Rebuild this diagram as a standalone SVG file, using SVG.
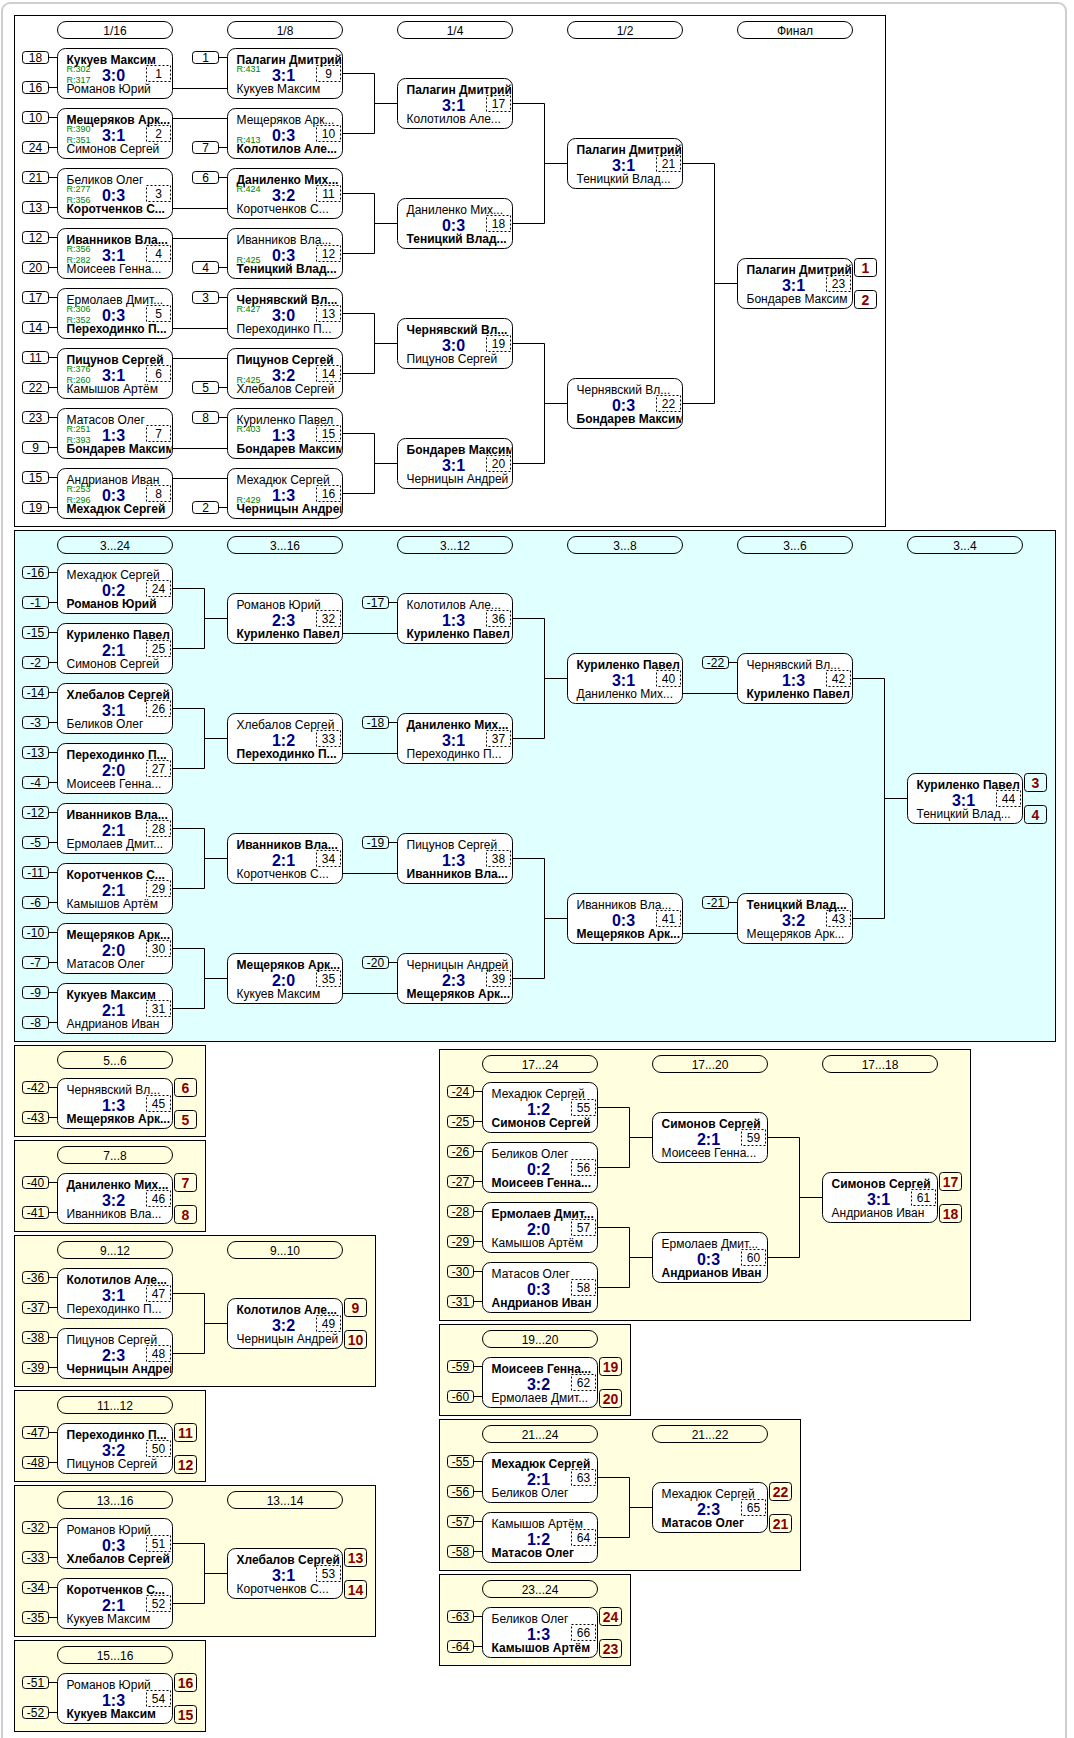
<svg xmlns="http://www.w3.org/2000/svg" width="1074" height="1738" viewBox="0 0 1074 1738">
<defs><clipPath id="cl" clipPathUnits="userSpaceOnUse"><rect x="0" y="0" width="114" height="50"/></clipPath></defs>
<style>
text{font-family:"Liberation Sans",Arial,sans-serif}
.pn{stroke:#000;stroke-width:1}
.p1{fill:#fff}.p2{fill:#e0ffff}.p3{fill:#ffffe0}
.hd{fill:none;stroke:#000}
.nd{fill:#fff;stroke:#000}
.sb{fill:none;stroke:#000}
.mb{fill:none;stroke:#000;stroke-dasharray:2 2}
.bg{fill:none;stroke:#000}
.t{font-size:12px;fill:#000;clip-path:url(#cl)}
.b{font-weight:bold;font-size:12px}
.sc{font-size:16px;font-weight:bold;fill:#000080;text-anchor:middle}
.r{font-size:9px;fill:#008000}
.c{font-size:12px;fill:#000;text-anchor:middle}
.bt{font-size:14px;font-weight:bold;fill:#8b0000;text-anchor:middle}
#conn path{stroke:#000;fill:none;stroke-width:1}
</style>
<rect x="0" y="0" width="1074" height="1738" fill="#fff"/>
<rect x="2" y="3" width="1064" height="1760" rx="8" fill="#fff" stroke="#cfcfcf" stroke-width="2"/>
<g id="panels">
<rect class="pn p1" x="14.5" y="15.5" width="871" height="511"/>
<rect class="pn p2" x="14.5" y="530.5" width="1041" height="511"/>
<rect class="pn p3" x="14.5" y="1045.5" width="191" height="91"/>
<rect class="pn p3" x="14.5" y="1140.5" width="191" height="91"/>
<rect class="pn p3" x="14.5" y="1235.5" width="361" height="151"/>
<rect class="pn p3" x="14.5" y="1390.5" width="191" height="91"/>
<rect class="pn p3" x="14.5" y="1485.5" width="361" height="151"/>
<rect class="pn p3" x="14.5" y="1640.5" width="191" height="91"/>
<rect class="pn p3" x="439.5" y="1049.5" width="531" height="271"/>
<rect class="pn p3" x="439.5" y="1324.5" width="191" height="91"/>
<rect class="pn p3" x="439.5" y="1419.5" width="361" height="151"/>
<rect class="pn p3" x="439.5" y="1574.5" width="191" height="91"/>
</g>
<g id="headers">
<g transform="translate(57.5,21.5)"><rect class="hd" width="115" height="17" rx="8.5"/><text class="c" x="57.5" y="13">1/16</text></g>
<g transform="translate(227.5,21.5)"><rect class="hd" width="115" height="17" rx="8.5"/><text class="c" x="57.5" y="13">1/8</text></g>
<g transform="translate(397.5,21.5)"><rect class="hd" width="115" height="17" rx="8.5"/><text class="c" x="57.5" y="13">1/4</text></g>
<g transform="translate(567.5,21.5)"><rect class="hd" width="115" height="17" rx="8.5"/><text class="c" x="57.5" y="13">1/2</text></g>
<g transform="translate(737.5,21.5)"><rect class="hd" width="115" height="17" rx="8.5"/><text class="c" x="57.5" y="13">Финал</text></g>
<g transform="translate(57.5,536.5)"><rect class="hd" width="115" height="17" rx="8.5"/><text class="c" x="57.5" y="13">3...24</text></g>
<g transform="translate(227.5,536.5)"><rect class="hd" width="115" height="17" rx="8.5"/><text class="c" x="57.5" y="13">3...16</text></g>
<g transform="translate(397.5,536.5)"><rect class="hd" width="115" height="17" rx="8.5"/><text class="c" x="57.5" y="13">3...12</text></g>
<g transform="translate(567.5,536.5)"><rect class="hd" width="115" height="17" rx="8.5"/><text class="c" x="57.5" y="13">3...8</text></g>
<g transform="translate(737.5,536.5)"><rect class="hd" width="115" height="17" rx="8.5"/><text class="c" x="57.5" y="13">3...6</text></g>
<g transform="translate(907.5,536.5)"><rect class="hd" width="115" height="17" rx="8.5"/><text class="c" x="57.5" y="13">3...4</text></g>
<g transform="translate(57.5,1051.5)"><rect class="hd" width="115" height="17" rx="8.5"/><text class="c" x="57.5" y="13">5...6</text></g>
<g transform="translate(57.5,1146.5)"><rect class="hd" width="115" height="17" rx="8.5"/><text class="c" x="57.5" y="13">7...8</text></g>
<g transform="translate(57.5,1241.5)"><rect class="hd" width="115" height="17" rx="8.5"/><text class="c" x="57.5" y="13">9...12</text></g>
<g transform="translate(227.5,1241.5)"><rect class="hd" width="115" height="17" rx="8.5"/><text class="c" x="57.5" y="13">9...10</text></g>
<g transform="translate(57.5,1396.5)"><rect class="hd" width="115" height="17" rx="8.5"/><text class="c" x="57.5" y="13">11...12</text></g>
<g transform="translate(57.5,1491.5)"><rect class="hd" width="115" height="17" rx="8.5"/><text class="c" x="57.5" y="13">13...16</text></g>
<g transform="translate(227.5,1491.5)"><rect class="hd" width="115" height="17" rx="8.5"/><text class="c" x="57.5" y="13">13...14</text></g>
<g transform="translate(57.5,1646.5)"><rect class="hd" width="115" height="17" rx="8.5"/><text class="c" x="57.5" y="13">15...16</text></g>
<g transform="translate(482.5,1055.5)"><rect class="hd" width="115" height="17" rx="8.5"/><text class="c" x="57.5" y="13">17...24</text></g>
<g transform="translate(652.5,1055.5)"><rect class="hd" width="115" height="17" rx="8.5"/><text class="c" x="57.5" y="13">17...20</text></g>
<g transform="translate(822.5,1055.5)"><rect class="hd" width="115" height="17" rx="8.5"/><text class="c" x="57.5" y="13">17...18</text></g>
<g transform="translate(482.5,1330.5)"><rect class="hd" width="115" height="17" rx="8.5"/><text class="c" x="57.5" y="13">19...20</text></g>
<g transform="translate(482.5,1425.5)"><rect class="hd" width="115" height="17" rx="8.5"/><text class="c" x="57.5" y="13">21...24</text></g>
<g transform="translate(652.5,1425.5)"><rect class="hd" width="115" height="17" rx="8.5"/><text class="c" x="57.5" y="13">21...22</text></g>
<g transform="translate(482.5,1580.5)"><rect class="hd" width="115" height="17" rx="8.5"/><text class="c" x="57.5" y="13">23...24</text></g>
</g>
<g id="conn">
<path d="M48.5 57.5H57.5M48.5 87.5H57.5M48.5 117.5H57.5M48.5 147.5H57.5M48.5 177.5H57.5M48.5 207.5H57.5M48.5 237.5H57.5M48.5 267.5H57.5M48.5 297.5H57.5M48.5 327.5H57.5M48.5 357.5H57.5M48.5 387.5H57.5M48.5 417.5H57.5M48.5 447.5H57.5M48.5 477.5H57.5M48.5 507.5H57.5"/>
<path d="M218.5 57.5H227.5M218.5 147.5H227.5M218.5 177.5H227.5M218.5 267.5H227.5M218.5 297.5H227.5M218.5 387.5H227.5M218.5 417.5H227.5M218.5 507.5H227.5"/>
<path d="M172.5 88.5H227.5M172.5 118.5H227.5M172.5 208.5H227.5M172.5 238.5H227.5M172.5 328.5H227.5M172.5 358.5H227.5M172.5 448.5H227.5M172.5 478.5H227.5"/>
<path d="M342.5 73.5H374.5V133.5H342.5M374.5 103.5H397.5M342.5 193.5H374.5V253.5H342.5M374.5 223.5H397.5M342.5 313.5H374.5V373.5H342.5M374.5 343.5H397.5M342.5 433.5H374.5V493.5H342.5M374.5 463.5H397.5"/>
<path d="M512.5 103.5H544.5V223.5H512.5M544.5 163.5H567.5M512.5 343.5H544.5V463.5H512.5M544.5 403.5H567.5"/>
<path d="M682.5 163.5H714.5V403.5H682.5M714.5 283.5H737.5"/>
<path d="M48.5 572.5H57.5M48.5 602.5H57.5M48.5 632.5H57.5M48.5 662.5H57.5M48.5 692.5H57.5M48.5 722.5H57.5M48.5 752.5H57.5M48.5 782.5H57.5M48.5 812.5H57.5M48.5 842.5H57.5M48.5 872.5H57.5M48.5 902.5H57.5M48.5 932.5H57.5M48.5 962.5H57.5M48.5 992.5H57.5M48.5 1022.5H57.5"/>
<path d="M172.5 588.5H204.5V648.5H172.5M204.5 618.5H227.5M172.5 708.5H204.5V768.5H172.5M204.5 738.5H227.5M172.5 828.5H204.5V888.5H172.5M204.5 858.5H227.5M172.5 948.5H204.5V1008.5H172.5M204.5 978.5H227.5"/>
<path d="M342.5 633.5H397.5M342.5 753.5H397.5M342.5 873.5H397.5M342.5 993.5H397.5M388.5 602.5H397.5M388.5 722.5H397.5M388.5 842.5H397.5M388.5 962.5H397.5"/>
<path d="M512.5 618.5H544.5V738.5H512.5M544.5 678.5H567.5M512.5 858.5H544.5V978.5H512.5M544.5 918.5H567.5"/>
<path d="M682.5 693.5H737.5M682.5 933.5H737.5M728.5 662.5H737.5M728.5 902.5H737.5"/>
<path d="M852.5 678.5H884.5V918.5H852.5M884.5 798.5H907.5"/>
<path d="M48.5 1087.5H57.5M48.5 1117.5H57.5M48.5 1182.5H57.5M48.5 1212.5H57.5M48.5 1277.5H57.5M48.5 1307.5H57.5M48.5 1337.5H57.5M48.5 1367.5H57.5M48.5 1432.5H57.5M48.5 1462.5H57.5M48.5 1527.5H57.5M48.5 1557.5H57.5M48.5 1587.5H57.5M48.5 1617.5H57.5M48.5 1682.5H57.5M48.5 1712.5H57.5"/>
<path d="M172.5 1293.5H204.5V1353.5H172.5M204.5 1323.5H227.5M172.5 1543.5H204.5V1603.5H172.5M204.5 1573.5H227.5"/>
<path d="M473.5 1091.5H482.5M473.5 1121.5H482.5M473.5 1151.5H482.5M473.5 1181.5H482.5M473.5 1211.5H482.5M473.5 1241.5H482.5M473.5 1271.5H482.5M473.5 1301.5H482.5M473.5 1366.5H482.5M473.5 1396.5H482.5M473.5 1461.5H482.5M473.5 1491.5H482.5M473.5 1521.5H482.5M473.5 1551.5H482.5M473.5 1616.5H482.5M473.5 1646.5H482.5"/>
<path d="M597.5 1107.5H629.5V1167.5H597.5M629.5 1137.5H652.5M597.5 1227.5H629.5V1287.5H597.5M629.5 1257.5H652.5M767.5 1137.5H799.5V1257.5H767.5M799.5 1197.5H822.5"/>
<path d="M597.5 1477.5H629.5V1537.5H597.5M629.5 1507.5H652.5"/>
</g>
<g id="m1" transform="translate(57.5,48.5)"><rect class="sb" x="-35" y="3" width="26" height="12" rx="3"/><text class="c" x="-22" y="13">18</text><rect class="sb" x="-35" y="33" width="26" height="12" rx="3"/><text class="c" x="-22" y="43">16</text><rect class="nd" width="115" height="50" rx="8"/><text class="t b" x="9" y="15">Кукуев Максим</text><text class="r" x="9" y="23.5">R:302</text><text class="r" x="9" y="34">R:317</text><text class="t" x="9" y="44.5">Романов Юрий</text><text class="sc" x="56" y="32">3:0</text><rect class="mb" x="89" y="17" width="24" height="16"/><text class="c" x="101" y="29.5">1</text></g>
<g id="m2" transform="translate(57.5,108.5)"><rect class="sb" x="-35" y="3" width="26" height="12" rx="3"/><text class="c" x="-22" y="13">10</text><rect class="sb" x="-35" y="33" width="26" height="12" rx="3"/><text class="c" x="-22" y="43">24</text><rect class="nd" width="115" height="50" rx="8"/><text class="t b" x="9" y="15">Мещеряков Арк...</text><text class="r" x="9" y="23.5">R:390</text><text class="r" x="9" y="34">R:351</text><text class="t" x="9" y="44.5">Симонов Сергей</text><text class="sc" x="56" y="32">3:1</text><rect class="mb" x="89" y="17" width="24" height="16"/><text class="c" x="101" y="29.5">2</text></g>
<g id="m3" transform="translate(57.5,168.5)"><rect class="sb" x="-35" y="3" width="26" height="12" rx="3"/><text class="c" x="-22" y="13">21</text><rect class="sb" x="-35" y="33" width="26" height="12" rx="3"/><text class="c" x="-22" y="43">13</text><rect class="nd" width="115" height="50" rx="8"/><text class="t" x="9" y="15">Беликов Олег</text><text class="r" x="9" y="23.5">R:277</text><text class="r" x="9" y="34">R:356</text><text class="t b" x="9" y="44.5">Коротченков С...</text><text class="sc" x="56" y="32">0:3</text><rect class="mb" x="89" y="17" width="24" height="16"/><text class="c" x="101" y="29.5">3</text></g>
<g id="m4" transform="translate(57.5,228.5)"><rect class="sb" x="-35" y="3" width="26" height="12" rx="3"/><text class="c" x="-22" y="13">12</text><rect class="sb" x="-35" y="33" width="26" height="12" rx="3"/><text class="c" x="-22" y="43">20</text><rect class="nd" width="115" height="50" rx="8"/><text class="t b" x="9" y="15">Иванников Вла...</text><text class="r" x="9" y="23.5">R:356</text><text class="r" x="9" y="34">R:282</text><text class="t" x="9" y="44.5">Моисеев Генна...</text><text class="sc" x="56" y="32">3:1</text><rect class="mb" x="89" y="17" width="24" height="16"/><text class="c" x="101" y="29.5">4</text></g>
<g id="m5" transform="translate(57.5,288.5)"><rect class="sb" x="-35" y="3" width="26" height="12" rx="3"/><text class="c" x="-22" y="13">17</text><rect class="sb" x="-35" y="33" width="26" height="12" rx="3"/><text class="c" x="-22" y="43">14</text><rect class="nd" width="115" height="50" rx="8"/><text class="t" x="9" y="15">Ермолаев Дмит...</text><text class="r" x="9" y="23.5">R:306</text><text class="r" x="9" y="34">R:352</text><text class="t b" x="9" y="44.5">Переходинко П...</text><text class="sc" x="56" y="32">0:3</text><rect class="mb" x="89" y="17" width="24" height="16"/><text class="c" x="101" y="29.5">5</text></g>
<g id="m6" transform="translate(57.5,348.5)"><rect class="sb" x="-35" y="3" width="26" height="12" rx="3"/><text class="c" x="-22" y="13">11</text><rect class="sb" x="-35" y="33" width="26" height="12" rx="3"/><text class="c" x="-22" y="43">22</text><rect class="nd" width="115" height="50" rx="8"/><text class="t b" x="9" y="15">Пицунов Сергей</text><text class="r" x="9" y="23.5">R:376</text><text class="r" x="9" y="34">R:260</text><text class="t" x="9" y="44.5">Камышов Артём</text><text class="sc" x="56" y="32">3:1</text><rect class="mb" x="89" y="17" width="24" height="16"/><text class="c" x="101" y="29.5">6</text></g>
<g id="m7" transform="translate(57.5,408.5)"><rect class="sb" x="-35" y="3" width="26" height="12" rx="3"/><text class="c" x="-22" y="13">23</text><rect class="sb" x="-35" y="33" width="26" height="12" rx="3"/><text class="c" x="-22" y="43">9</text><rect class="nd" width="115" height="50" rx="8"/><text class="t" x="9" y="15">Матасов Олег</text><text class="r" x="9" y="23.5">R:251</text><text class="r" x="9" y="34">R:393</text><text class="t b" x="9" y="44.5">Бондарев Максим</text><text class="sc" x="56" y="32">1:3</text><rect class="mb" x="89" y="17" width="24" height="16"/><text class="c" x="101" y="29.5">7</text></g>
<g id="m8" transform="translate(57.5,468.5)"><rect class="sb" x="-35" y="3" width="26" height="12" rx="3"/><text class="c" x="-22" y="13">15</text><rect class="sb" x="-35" y="33" width="26" height="12" rx="3"/><text class="c" x="-22" y="43">19</text><rect class="nd" width="115" height="50" rx="8"/><text class="t" x="9" y="15">Андрианов Иван</text><text class="r" x="9" y="23.5">R:253</text><text class="r" x="9" y="34">R:296</text><text class="t b" x="9" y="44.5">Мехадюк Сергей</text><text class="sc" x="56" y="32">0:3</text><rect class="mb" x="89" y="17" width="24" height="16"/><text class="c" x="101" y="29.5">8</text></g>
<g id="m9" transform="translate(227.5,48.5)"><rect class="sb" x="-35" y="3" width="26" height="12" rx="3"/><text class="c" x="-22" y="13">1</text><rect class="nd" width="115" height="50" rx="8"/><text class="t b" x="9" y="15">Палагин Дмитрий</text><text class="r" x="9" y="23.5">R:431</text><text class="t" x="9" y="44.5">Кукуев Максим</text><text class="sc" x="56" y="32">3:1</text><rect class="mb" x="89" y="17" width="24" height="16"/><text class="c" x="101" y="29.5">9</text></g>
<g id="m10" transform="translate(227.5,108.5)"><rect class="sb" x="-35" y="33" width="26" height="12" rx="3"/><text class="c" x="-22" y="43">7</text><rect class="nd" width="115" height="50" rx="8"/><text class="t" x="9" y="15">Мещеряков Арк...</text><text class="r" x="9" y="34">R:413</text><text class="t b" x="9" y="44.5">Колотилов Але...</text><text class="sc" x="56" y="32">0:3</text><rect class="mb" x="89" y="17" width="24" height="16"/><text class="c" x="101" y="29.5">10</text></g>
<g id="m11" transform="translate(227.5,168.5)"><rect class="sb" x="-35" y="3" width="26" height="12" rx="3"/><text class="c" x="-22" y="13">6</text><rect class="nd" width="115" height="50" rx="8"/><text class="t b" x="9" y="15">Даниленко Мих...</text><text class="r" x="9" y="23.5">R:424</text><text class="t" x="9" y="44.5">Коротченков С...</text><text class="sc" x="56" y="32">3:2</text><rect class="mb" x="89" y="17" width="24" height="16"/><text class="c" x="101" y="29.5">11</text></g>
<g id="m12" transform="translate(227.5,228.5)"><rect class="sb" x="-35" y="33" width="26" height="12" rx="3"/><text class="c" x="-22" y="43">4</text><rect class="nd" width="115" height="50" rx="8"/><text class="t" x="9" y="15">Иванников Вла...</text><text class="r" x="9" y="34">R:425</text><text class="t b" x="9" y="44.5">Теницкий Влад...</text><text class="sc" x="56" y="32">0:3</text><rect class="mb" x="89" y="17" width="24" height="16"/><text class="c" x="101" y="29.5">12</text></g>
<g id="m13" transform="translate(227.5,288.5)"><rect class="sb" x="-35" y="3" width="26" height="12" rx="3"/><text class="c" x="-22" y="13">3</text><rect class="nd" width="115" height="50" rx="8"/><text class="t b" x="9" y="15">Чернявский Вл...</text><text class="r" x="9" y="23.5">R:427</text><text class="t" x="9" y="44.5">Переходинко П...</text><text class="sc" x="56" y="32">3:0</text><rect class="mb" x="89" y="17" width="24" height="16"/><text class="c" x="101" y="29.5">13</text></g>
<g id="m14" transform="translate(227.5,348.5)"><rect class="sb" x="-35" y="33" width="26" height="12" rx="3"/><text class="c" x="-22" y="43">5</text><rect class="nd" width="115" height="50" rx="8"/><text class="t b" x="9" y="15">Пицунов Сергей</text><text class="r" x="9" y="34">R:425</text><text class="t" x="9" y="44.5">Хлебалов Сергей</text><text class="sc" x="56" y="32">3:2</text><rect class="mb" x="89" y="17" width="24" height="16"/><text class="c" x="101" y="29.5">14</text></g>
<g id="m15" transform="translate(227.5,408.5)"><rect class="sb" x="-35" y="3" width="26" height="12" rx="3"/><text class="c" x="-22" y="13">8</text><rect class="nd" width="115" height="50" rx="8"/><text class="t" x="9" y="15">Куриленко Павел</text><text class="r" x="9" y="23.5">R:403</text><text class="t b" x="9" y="44.5">Бондарев Максим</text><text class="sc" x="56" y="32">1:3</text><rect class="mb" x="89" y="17" width="24" height="16"/><text class="c" x="101" y="29.5">15</text></g>
<g id="m16" transform="translate(227.5,468.5)"><rect class="sb" x="-35" y="33" width="26" height="12" rx="3"/><text class="c" x="-22" y="43">2</text><rect class="nd" width="115" height="50" rx="8"/><text class="t" x="9" y="15">Мехадюк Сергей</text><text class="r" x="9" y="34">R:429</text><text class="t b" x="9" y="44.5">Черницын Андрей</text><text class="sc" x="56" y="32">1:3</text><rect class="mb" x="89" y="17" width="24" height="16"/><text class="c" x="101" y="29.5">16</text></g>
<g id="m17" transform="translate(397.5,78.5)"><rect class="nd" width="115" height="50" rx="8"/><text class="t b" x="9" y="15">Палагин Дмитрий</text><text class="t" x="9" y="44.5">Колотилов Але...</text><text class="sc" x="56" y="32">3:1</text><rect class="mb" x="89" y="17" width="24" height="16"/><text class="c" x="101" y="29.5">17</text></g>
<g id="m18" transform="translate(397.5,198.5)"><rect class="nd" width="115" height="50" rx="8"/><text class="t" x="9" y="15">Даниленко Мих...</text><text class="t b" x="9" y="44.5">Теницкий Влад...</text><text class="sc" x="56" y="32">0:3</text><rect class="mb" x="89" y="17" width="24" height="16"/><text class="c" x="101" y="29.5">18</text></g>
<g id="m19" transform="translate(397.5,318.5)"><rect class="nd" width="115" height="50" rx="8"/><text class="t b" x="9" y="15">Чернявский Вл...</text><text class="t" x="9" y="44.5">Пицунов Сергей</text><text class="sc" x="56" y="32">3:0</text><rect class="mb" x="89" y="17" width="24" height="16"/><text class="c" x="101" y="29.5">19</text></g>
<g id="m20" transform="translate(397.5,438.5)"><rect class="nd" width="115" height="50" rx="8"/><text class="t b" x="9" y="15">Бондарев Максим</text><text class="t" x="9" y="44.5">Черницын Андрей</text><text class="sc" x="56" y="32">3:1</text><rect class="mb" x="89" y="17" width="24" height="16"/><text class="c" x="101" y="29.5">20</text></g>
<g id="m21" transform="translate(567.5,138.5)"><rect class="nd" width="115" height="50" rx="8"/><text class="t b" x="9" y="15">Палагин Дмитрий</text><text class="t" x="9" y="44.5">Теницкий Влад...</text><text class="sc" x="56" y="32">3:1</text><rect class="mb" x="89" y="17" width="24" height="16"/><text class="c" x="101" y="29.5">21</text></g>
<g id="m22" transform="translate(567.5,378.5)"><rect class="nd" width="115" height="50" rx="8"/><text class="t" x="9" y="15">Чернявский Вл...</text><text class="t b" x="9" y="44.5">Бондарев Максим</text><text class="sc" x="56" y="32">0:3</text><rect class="mb" x="89" y="17" width="24" height="16"/><text class="c" x="101" y="29.5">22</text></g>
<g id="m23" transform="translate(737.5,258.5)"><rect class="nd" width="115" height="50" rx="8"/><text class="t b" x="9" y="15">Палагин Дмитрий</text><text class="t" x="9" y="44.5">Бондарев Максим</text><text class="sc" x="56" y="32">3:1</text><rect class="mb" x="89" y="17" width="24" height="16"/><text class="c" x="101" y="29.5">23</text><rect class="bg" x="117" y="0" width="22" height="18" rx="3"/><text class="bt" x="128" y="14.5">1</text><rect class="bg" x="117" y="32" width="22" height="18" rx="3"/><text class="bt" x="128" y="46.5">2</text></g>
<g id="m24" transform="translate(57.5,563.5)"><rect class="sb" x="-35" y="3" width="26" height="12" rx="3"/><text class="c" x="-22" y="13">-16</text><rect class="sb" x="-35" y="33" width="26" height="12" rx="3"/><text class="c" x="-22" y="43">-1</text><rect class="nd" width="115" height="50" rx="8"/><text class="t" x="9" y="15">Мехадюк Сергей</text><text class="t b" x="9" y="44.5">Романов Юрий</text><text class="sc" x="56" y="32">0:2</text><rect class="mb" x="89" y="17" width="24" height="16"/><text class="c" x="101" y="29.5">24</text></g>
<g id="m25" transform="translate(57.5,623.5)"><rect class="sb" x="-35" y="3" width="26" height="12" rx="3"/><text class="c" x="-22" y="13">-15</text><rect class="sb" x="-35" y="33" width="26" height="12" rx="3"/><text class="c" x="-22" y="43">-2</text><rect class="nd" width="115" height="50" rx="8"/><text class="t b" x="9" y="15">Куриленко Павел</text><text class="t" x="9" y="44.5">Симонов Сергей</text><text class="sc" x="56" y="32">2:1</text><rect class="mb" x="89" y="17" width="24" height="16"/><text class="c" x="101" y="29.5">25</text></g>
<g id="m26" transform="translate(57.5,683.5)"><rect class="sb" x="-35" y="3" width="26" height="12" rx="3"/><text class="c" x="-22" y="13">-14</text><rect class="sb" x="-35" y="33" width="26" height="12" rx="3"/><text class="c" x="-22" y="43">-3</text><rect class="nd" width="115" height="50" rx="8"/><text class="t b" x="9" y="15">Хлебалов Сергей</text><text class="t" x="9" y="44.5">Беликов Олег</text><text class="sc" x="56" y="32">3:1</text><rect class="mb" x="89" y="17" width="24" height="16"/><text class="c" x="101" y="29.5">26</text></g>
<g id="m27" transform="translate(57.5,743.5)"><rect class="sb" x="-35" y="3" width="26" height="12" rx="3"/><text class="c" x="-22" y="13">-13</text><rect class="sb" x="-35" y="33" width="26" height="12" rx="3"/><text class="c" x="-22" y="43">-4</text><rect class="nd" width="115" height="50" rx="8"/><text class="t b" x="9" y="15">Переходинко П...</text><text class="t" x="9" y="44.5">Моисеев Генна...</text><text class="sc" x="56" y="32">2:0</text><rect class="mb" x="89" y="17" width="24" height="16"/><text class="c" x="101" y="29.5">27</text></g>
<g id="m28" transform="translate(57.5,803.5)"><rect class="sb" x="-35" y="3" width="26" height="12" rx="3"/><text class="c" x="-22" y="13">-12</text><rect class="sb" x="-35" y="33" width="26" height="12" rx="3"/><text class="c" x="-22" y="43">-5</text><rect class="nd" width="115" height="50" rx="8"/><text class="t b" x="9" y="15">Иванников Вла...</text><text class="t" x="9" y="44.5">Ермолаев Дмит...</text><text class="sc" x="56" y="32">2:1</text><rect class="mb" x="89" y="17" width="24" height="16"/><text class="c" x="101" y="29.5">28</text></g>
<g id="m29" transform="translate(57.5,863.5)"><rect class="sb" x="-35" y="3" width="26" height="12" rx="3"/><text class="c" x="-22" y="13">-11</text><rect class="sb" x="-35" y="33" width="26" height="12" rx="3"/><text class="c" x="-22" y="43">-6</text><rect class="nd" width="115" height="50" rx="8"/><text class="t b" x="9" y="15">Коротченков С...</text><text class="t" x="9" y="44.5">Камышов Артём</text><text class="sc" x="56" y="32">2:1</text><rect class="mb" x="89" y="17" width="24" height="16"/><text class="c" x="101" y="29.5">29</text></g>
<g id="m30" transform="translate(57.5,923.5)"><rect class="sb" x="-35" y="3" width="26" height="12" rx="3"/><text class="c" x="-22" y="13">-10</text><rect class="sb" x="-35" y="33" width="26" height="12" rx="3"/><text class="c" x="-22" y="43">-7</text><rect class="nd" width="115" height="50" rx="8"/><text class="t b" x="9" y="15">Мещеряков Арк...</text><text class="t" x="9" y="44.5">Матасов Олег</text><text class="sc" x="56" y="32">2:0</text><rect class="mb" x="89" y="17" width="24" height="16"/><text class="c" x="101" y="29.5">30</text></g>
<g id="m31" transform="translate(57.5,983.5)"><rect class="sb" x="-35" y="3" width="26" height="12" rx="3"/><text class="c" x="-22" y="13">-9</text><rect class="sb" x="-35" y="33" width="26" height="12" rx="3"/><text class="c" x="-22" y="43">-8</text><rect class="nd" width="115" height="50" rx="8"/><text class="t b" x="9" y="15">Кукуев Максим</text><text class="t" x="9" y="44.5">Андрианов Иван</text><text class="sc" x="56" y="32">2:1</text><rect class="mb" x="89" y="17" width="24" height="16"/><text class="c" x="101" y="29.5">31</text></g>
<g id="m32" transform="translate(227.5,593.5)"><rect class="nd" width="115" height="50" rx="8"/><text class="t" x="9" y="15">Романов Юрий</text><text class="t b" x="9" y="44.5">Куриленко Павел</text><text class="sc" x="56" y="32">2:3</text><rect class="mb" x="89" y="17" width="24" height="16"/><text class="c" x="101" y="29.5">32</text></g>
<g id="m33" transform="translate(227.5,713.5)"><rect class="nd" width="115" height="50" rx="8"/><text class="t" x="9" y="15">Хлебалов Сергей</text><text class="t b" x="9" y="44.5">Переходинко П...</text><text class="sc" x="56" y="32">1:2</text><rect class="mb" x="89" y="17" width="24" height="16"/><text class="c" x="101" y="29.5">33</text></g>
<g id="m34" transform="translate(227.5,833.5)"><rect class="nd" width="115" height="50" rx="8"/><text class="t b" x="9" y="15">Иванников Вла...</text><text class="t" x="9" y="44.5">Коротченков С...</text><text class="sc" x="56" y="32">2:1</text><rect class="mb" x="89" y="17" width="24" height="16"/><text class="c" x="101" y="29.5">34</text></g>
<g id="m35" transform="translate(227.5,953.5)"><rect class="nd" width="115" height="50" rx="8"/><text class="t b" x="9" y="15">Мещеряков Арк...</text><text class="t" x="9" y="44.5">Кукуев Максим</text><text class="sc" x="56" y="32">2:0</text><rect class="mb" x="89" y="17" width="24" height="16"/><text class="c" x="101" y="29.5">35</text></g>
<g id="m36" transform="translate(397.5,593.5)"><rect class="sb" x="-35" y="3" width="26" height="12" rx="3"/><text class="c" x="-22" y="13">-17</text><rect class="nd" width="115" height="50" rx="8"/><text class="t" x="9" y="15">Колотилов Але...</text><text class="t b" x="9" y="44.5">Куриленко Павел</text><text class="sc" x="56" y="32">1:3</text><rect class="mb" x="89" y="17" width="24" height="16"/><text class="c" x="101" y="29.5">36</text></g>
<g id="m37" transform="translate(397.5,713.5)"><rect class="sb" x="-35" y="3" width="26" height="12" rx="3"/><text class="c" x="-22" y="13">-18</text><rect class="nd" width="115" height="50" rx="8"/><text class="t b" x="9" y="15">Даниленко Мих...</text><text class="t" x="9" y="44.5">Переходинко П...</text><text class="sc" x="56" y="32">3:1</text><rect class="mb" x="89" y="17" width="24" height="16"/><text class="c" x="101" y="29.5">37</text></g>
<g id="m38" transform="translate(397.5,833.5)"><rect class="sb" x="-35" y="3" width="26" height="12" rx="3"/><text class="c" x="-22" y="13">-19</text><rect class="nd" width="115" height="50" rx="8"/><text class="t" x="9" y="15">Пицунов Сергей</text><text class="t b" x="9" y="44.5">Иванников Вла...</text><text class="sc" x="56" y="32">1:3</text><rect class="mb" x="89" y="17" width="24" height="16"/><text class="c" x="101" y="29.5">38</text></g>
<g id="m39" transform="translate(397.5,953.5)"><rect class="sb" x="-35" y="3" width="26" height="12" rx="3"/><text class="c" x="-22" y="13">-20</text><rect class="nd" width="115" height="50" rx="8"/><text class="t" x="9" y="15">Черницын Андрей</text><text class="t b" x="9" y="44.5">Мещеряков Арк...</text><text class="sc" x="56" y="32">2:3</text><rect class="mb" x="89" y="17" width="24" height="16"/><text class="c" x="101" y="29.5">39</text></g>
<g id="m40" transform="translate(567.5,653.5)"><rect class="nd" width="115" height="50" rx="8"/><text class="t b" x="9" y="15">Куриленко Павел</text><text class="t" x="9" y="44.5">Даниленко Мих...</text><text class="sc" x="56" y="32">3:1</text><rect class="mb" x="89" y="17" width="24" height="16"/><text class="c" x="101" y="29.5">40</text></g>
<g id="m41" transform="translate(567.5,893.5)"><rect class="nd" width="115" height="50" rx="8"/><text class="t" x="9" y="15">Иванников Вла...</text><text class="t b" x="9" y="44.5">Мещеряков Арк...</text><text class="sc" x="56" y="32">0:3</text><rect class="mb" x="89" y="17" width="24" height="16"/><text class="c" x="101" y="29.5">41</text></g>
<g id="m42" transform="translate(737.5,653.5)"><rect class="sb" x="-35" y="3" width="26" height="12" rx="3"/><text class="c" x="-22" y="13">-22</text><rect class="nd" width="115" height="50" rx="8"/><text class="t" x="9" y="15">Чернявский Вл...</text><text class="t b" x="9" y="44.5">Куриленко Павел</text><text class="sc" x="56" y="32">1:3</text><rect class="mb" x="89" y="17" width="24" height="16"/><text class="c" x="101" y="29.5">42</text></g>
<g id="m43" transform="translate(737.5,893.5)"><rect class="sb" x="-35" y="3" width="26" height="12" rx="3"/><text class="c" x="-22" y="13">-21</text><rect class="nd" width="115" height="50" rx="8"/><text class="t b" x="9" y="15">Теницкий Влад...</text><text class="t" x="9" y="44.5">Мещеряков Арк...</text><text class="sc" x="56" y="32">3:2</text><rect class="mb" x="89" y="17" width="24" height="16"/><text class="c" x="101" y="29.5">43</text></g>
<g id="m44" transform="translate(907.5,773.5)"><rect class="nd" width="115" height="50" rx="8"/><text class="t b" x="9" y="15">Куриленко Павел</text><text class="t" x="9" y="44.5">Теницкий Влад...</text><text class="sc" x="56" y="32">3:1</text><rect class="mb" x="89" y="17" width="24" height="16"/><text class="c" x="101" y="29.5">44</text><rect class="bg" x="117" y="0" width="22" height="18" rx="3"/><text class="bt" x="128" y="14.5">3</text><rect class="bg" x="117" y="32" width="22" height="18" rx="3"/><text class="bt" x="128" y="46.5">4</text></g>
<g id="m45" transform="translate(57.5,1078.5)"><rect class="sb" x="-35" y="3" width="26" height="12" rx="3"/><text class="c" x="-22" y="13">-42</text><rect class="sb" x="-35" y="33" width="26" height="12" rx="3"/><text class="c" x="-22" y="43">-43</text><rect class="nd" width="115" height="50" rx="8"/><text class="t" x="9" y="15">Чернявский Вл...</text><text class="t b" x="9" y="44.5">Мещеряков Арк...</text><text class="sc" x="56" y="32">1:3</text><rect class="mb" x="89" y="17" width="24" height="16"/><text class="c" x="101" y="29.5">45</text><rect class="bg" x="117" y="0" width="22" height="18" rx="3"/><text class="bt" x="128" y="14.5">6</text><rect class="bg" x="117" y="32" width="22" height="18" rx="3"/><text class="bt" x="128" y="46.5">5</text></g>
<g id="m46" transform="translate(57.5,1173.5)"><rect class="sb" x="-35" y="3" width="26" height="12" rx="3"/><text class="c" x="-22" y="13">-40</text><rect class="sb" x="-35" y="33" width="26" height="12" rx="3"/><text class="c" x="-22" y="43">-41</text><rect class="nd" width="115" height="50" rx="8"/><text class="t b" x="9" y="15">Даниленко Мих...</text><text class="t" x="9" y="44.5">Иванников Вла...</text><text class="sc" x="56" y="32">3:2</text><rect class="mb" x="89" y="17" width="24" height="16"/><text class="c" x="101" y="29.5">46</text><rect class="bg" x="117" y="0" width="22" height="18" rx="3"/><text class="bt" x="128" y="14.5">7</text><rect class="bg" x="117" y="32" width="22" height="18" rx="3"/><text class="bt" x="128" y="46.5">8</text></g>
<g id="m47" transform="translate(57.5,1268.5)"><rect class="sb" x="-35" y="3" width="26" height="12" rx="3"/><text class="c" x="-22" y="13">-36</text><rect class="sb" x="-35" y="33" width="26" height="12" rx="3"/><text class="c" x="-22" y="43">-37</text><rect class="nd" width="115" height="50" rx="8"/><text class="t b" x="9" y="15">Колотилов Але...</text><text class="t" x="9" y="44.5">Переходинко П...</text><text class="sc" x="56" y="32">3:1</text><rect class="mb" x="89" y="17" width="24" height="16"/><text class="c" x="101" y="29.5">47</text></g>
<g id="m48" transform="translate(57.5,1328.5)"><rect class="sb" x="-35" y="3" width="26" height="12" rx="3"/><text class="c" x="-22" y="13">-38</text><rect class="sb" x="-35" y="33" width="26" height="12" rx="3"/><text class="c" x="-22" y="43">-39</text><rect class="nd" width="115" height="50" rx="8"/><text class="t" x="9" y="15">Пицунов Сергей</text><text class="t b" x="9" y="44.5">Черницын Андрей</text><text class="sc" x="56" y="32">2:3</text><rect class="mb" x="89" y="17" width="24" height="16"/><text class="c" x="101" y="29.5">48</text></g>
<g id="m49" transform="translate(227.5,1298.5)"><rect class="nd" width="115" height="50" rx="8"/><text class="t b" x="9" y="15">Колотилов Але...</text><text class="t" x="9" y="44.5">Черницын Андрей</text><text class="sc" x="56" y="32">3:2</text><rect class="mb" x="89" y="17" width="24" height="16"/><text class="c" x="101" y="29.5">49</text><rect class="bg" x="117" y="0" width="22" height="18" rx="3"/><text class="bt" x="128" y="14.5">9</text><rect class="bg" x="117" y="32" width="22" height="18" rx="3"/><text class="bt" x="128" y="46.5">10</text></g>
<g id="m50" transform="translate(57.5,1423.5)"><rect class="sb" x="-35" y="3" width="26" height="12" rx="3"/><text class="c" x="-22" y="13">-47</text><rect class="sb" x="-35" y="33" width="26" height="12" rx="3"/><text class="c" x="-22" y="43">-48</text><rect class="nd" width="115" height="50" rx="8"/><text class="t b" x="9" y="15">Переходинко П...</text><text class="t" x="9" y="44.5">Пицунов Сергей</text><text class="sc" x="56" y="32">3:2</text><rect class="mb" x="89" y="17" width="24" height="16"/><text class="c" x="101" y="29.5">50</text><rect class="bg" x="117" y="0" width="22" height="18" rx="3"/><text class="bt" x="128" y="14.5">11</text><rect class="bg" x="117" y="32" width="22" height="18" rx="3"/><text class="bt" x="128" y="46.5">12</text></g>
<g id="m51" transform="translate(57.5,1518.5)"><rect class="sb" x="-35" y="3" width="26" height="12" rx="3"/><text class="c" x="-22" y="13">-32</text><rect class="sb" x="-35" y="33" width="26" height="12" rx="3"/><text class="c" x="-22" y="43">-33</text><rect class="nd" width="115" height="50" rx="8"/><text class="t" x="9" y="15">Романов Юрий</text><text class="t b" x="9" y="44.5">Хлебалов Сергей</text><text class="sc" x="56" y="32">0:3</text><rect class="mb" x="89" y="17" width="24" height="16"/><text class="c" x="101" y="29.5">51</text></g>
<g id="m52" transform="translate(57.5,1578.5)"><rect class="sb" x="-35" y="3" width="26" height="12" rx="3"/><text class="c" x="-22" y="13">-34</text><rect class="sb" x="-35" y="33" width="26" height="12" rx="3"/><text class="c" x="-22" y="43">-35</text><rect class="nd" width="115" height="50" rx="8"/><text class="t b" x="9" y="15">Коротченков С...</text><text class="t" x="9" y="44.5">Кукуев Максим</text><text class="sc" x="56" y="32">2:1</text><rect class="mb" x="89" y="17" width="24" height="16"/><text class="c" x="101" y="29.5">52</text></g>
<g id="m53" transform="translate(227.5,1548.5)"><rect class="nd" width="115" height="50" rx="8"/><text class="t b" x="9" y="15">Хлебалов Сергей</text><text class="t" x="9" y="44.5">Коротченков С...</text><text class="sc" x="56" y="32">3:1</text><rect class="mb" x="89" y="17" width="24" height="16"/><text class="c" x="101" y="29.5">53</text><rect class="bg" x="117" y="0" width="22" height="18" rx="3"/><text class="bt" x="128" y="14.5">13</text><rect class="bg" x="117" y="32" width="22" height="18" rx="3"/><text class="bt" x="128" y="46.5">14</text></g>
<g id="m54" transform="translate(57.5,1673.5)"><rect class="sb" x="-35" y="3" width="26" height="12" rx="3"/><text class="c" x="-22" y="13">-51</text><rect class="sb" x="-35" y="33" width="26" height="12" rx="3"/><text class="c" x="-22" y="43">-52</text><rect class="nd" width="115" height="50" rx="8"/><text class="t" x="9" y="15">Романов Юрий</text><text class="t b" x="9" y="44.5">Кукуев Максим</text><text class="sc" x="56" y="32">1:3</text><rect class="mb" x="89" y="17" width="24" height="16"/><text class="c" x="101" y="29.5">54</text><rect class="bg" x="117" y="0" width="22" height="18" rx="3"/><text class="bt" x="128" y="14.5">16</text><rect class="bg" x="117" y="32" width="22" height="18" rx="3"/><text class="bt" x="128" y="46.5">15</text></g>
<g id="m55" transform="translate(482.5,1082.5)"><rect class="sb" x="-35" y="3" width="26" height="12" rx="3"/><text class="c" x="-22" y="13">-24</text><rect class="sb" x="-35" y="33" width="26" height="12" rx="3"/><text class="c" x="-22" y="43">-25</text><rect class="nd" width="115" height="50" rx="8"/><text class="t" x="9" y="15">Мехадюк Сергей</text><text class="t b" x="9" y="44.5">Симонов Сергей</text><text class="sc" x="56" y="32">1:2</text><rect class="mb" x="89" y="17" width="24" height="16"/><text class="c" x="101" y="29.5">55</text></g>
<g id="m56" transform="translate(482.5,1142.5)"><rect class="sb" x="-35" y="3" width="26" height="12" rx="3"/><text class="c" x="-22" y="13">-26</text><rect class="sb" x="-35" y="33" width="26" height="12" rx="3"/><text class="c" x="-22" y="43">-27</text><rect class="nd" width="115" height="50" rx="8"/><text class="t" x="9" y="15">Беликов Олег</text><text class="t b" x="9" y="44.5">Моисеев Генна...</text><text class="sc" x="56" y="32">0:2</text><rect class="mb" x="89" y="17" width="24" height="16"/><text class="c" x="101" y="29.5">56</text></g>
<g id="m57" transform="translate(482.5,1202.5)"><rect class="sb" x="-35" y="3" width="26" height="12" rx="3"/><text class="c" x="-22" y="13">-28</text><rect class="sb" x="-35" y="33" width="26" height="12" rx="3"/><text class="c" x="-22" y="43">-29</text><rect class="nd" width="115" height="50" rx="8"/><text class="t b" x="9" y="15">Ермолаев Дмит...</text><text class="t" x="9" y="44.5">Камышов Артём</text><text class="sc" x="56" y="32">2:0</text><rect class="mb" x="89" y="17" width="24" height="16"/><text class="c" x="101" y="29.5">57</text></g>
<g id="m58" transform="translate(482.5,1262.5)"><rect class="sb" x="-35" y="3" width="26" height="12" rx="3"/><text class="c" x="-22" y="13">-30</text><rect class="sb" x="-35" y="33" width="26" height="12" rx="3"/><text class="c" x="-22" y="43">-31</text><rect class="nd" width="115" height="50" rx="8"/><text class="t" x="9" y="15">Матасов Олег</text><text class="t b" x="9" y="44.5">Андрианов Иван</text><text class="sc" x="56" y="32">0:3</text><rect class="mb" x="89" y="17" width="24" height="16"/><text class="c" x="101" y="29.5">58</text></g>
<g id="m59" transform="translate(652.5,1112.5)"><rect class="nd" width="115" height="50" rx="8"/><text class="t b" x="9" y="15">Симонов Сергей</text><text class="t" x="9" y="44.5">Моисеев Генна...</text><text class="sc" x="56" y="32">2:1</text><rect class="mb" x="89" y="17" width="24" height="16"/><text class="c" x="101" y="29.5">59</text></g>
<g id="m60" transform="translate(652.5,1232.5)"><rect class="nd" width="115" height="50" rx="8"/><text class="t" x="9" y="15">Ермолаев Дмит...</text><text class="t b" x="9" y="44.5">Андрианов Иван</text><text class="sc" x="56" y="32">0:3</text><rect class="mb" x="89" y="17" width="24" height="16"/><text class="c" x="101" y="29.5">60</text></g>
<g id="m61" transform="translate(822.5,1172.5)"><rect class="nd" width="115" height="50" rx="8"/><text class="t b" x="9" y="15">Симонов Сергей</text><text class="t" x="9" y="44.5">Андрианов Иван</text><text class="sc" x="56" y="32">3:1</text><rect class="mb" x="89" y="17" width="24" height="16"/><text class="c" x="101" y="29.5">61</text><rect class="bg" x="117" y="0" width="22" height="18" rx="3"/><text class="bt" x="128" y="14.5">17</text><rect class="bg" x="117" y="32" width="22" height="18" rx="3"/><text class="bt" x="128" y="46.5">18</text></g>
<g id="m62" transform="translate(482.5,1357.5)"><rect class="sb" x="-35" y="3" width="26" height="12" rx="3"/><text class="c" x="-22" y="13">-59</text><rect class="sb" x="-35" y="33" width="26" height="12" rx="3"/><text class="c" x="-22" y="43">-60</text><rect class="nd" width="115" height="50" rx="8"/><text class="t b" x="9" y="15">Моисеев Генна...</text><text class="t" x="9" y="44.5">Ермолаев Дмит...</text><text class="sc" x="56" y="32">3:2</text><rect class="mb" x="89" y="17" width="24" height="16"/><text class="c" x="101" y="29.5">62</text><rect class="bg" x="117" y="0" width="22" height="18" rx="3"/><text class="bt" x="128" y="14.5">19</text><rect class="bg" x="117" y="32" width="22" height="18" rx="3"/><text class="bt" x="128" y="46.5">20</text></g>
<g id="m63" transform="translate(482.5,1452.5)"><rect class="sb" x="-35" y="3" width="26" height="12" rx="3"/><text class="c" x="-22" y="13">-55</text><rect class="sb" x="-35" y="33" width="26" height="12" rx="3"/><text class="c" x="-22" y="43">-56</text><rect class="nd" width="115" height="50" rx="8"/><text class="t b" x="9" y="15">Мехадюк Сергей</text><text class="t" x="9" y="44.5">Беликов Олег</text><text class="sc" x="56" y="32">2:1</text><rect class="mb" x="89" y="17" width="24" height="16"/><text class="c" x="101" y="29.5">63</text></g>
<g id="m64" transform="translate(482.5,1512.5)"><rect class="sb" x="-35" y="3" width="26" height="12" rx="3"/><text class="c" x="-22" y="13">-57</text><rect class="sb" x="-35" y="33" width="26" height="12" rx="3"/><text class="c" x="-22" y="43">-58</text><rect class="nd" width="115" height="50" rx="8"/><text class="t" x="9" y="15">Камышов Артём</text><text class="t b" x="9" y="44.5">Матасов Олег</text><text class="sc" x="56" y="32">1:2</text><rect class="mb" x="89" y="17" width="24" height="16"/><text class="c" x="101" y="29.5">64</text></g>
<g id="m65" transform="translate(652.5,1482.5)"><rect class="nd" width="115" height="50" rx="8"/><text class="t" x="9" y="15">Мехадюк Сергей</text><text class="t b" x="9" y="44.5">Матасов Олег</text><text class="sc" x="56" y="32">2:3</text><rect class="mb" x="89" y="17" width="24" height="16"/><text class="c" x="101" y="29.5">65</text><rect class="bg" x="117" y="0" width="22" height="18" rx="3"/><text class="bt" x="128" y="14.5">22</text><rect class="bg" x="117" y="32" width="22" height="18" rx="3"/><text class="bt" x="128" y="46.5">21</text></g>
<g id="m66" transform="translate(482.5,1607.5)"><rect class="sb" x="-35" y="3" width="26" height="12" rx="3"/><text class="c" x="-22" y="13">-63</text><rect class="sb" x="-35" y="33" width="26" height="12" rx="3"/><text class="c" x="-22" y="43">-64</text><rect class="nd" width="115" height="50" rx="8"/><text class="t" x="9" y="15">Беликов Олег</text><text class="t b" x="9" y="44.5">Камышов Артём</text><text class="sc" x="56" y="32">1:3</text><rect class="mb" x="89" y="17" width="24" height="16"/><text class="c" x="101" y="29.5">66</text><rect class="bg" x="117" y="0" width="22" height="18" rx="3"/><text class="bt" x="128" y="14.5">24</text><rect class="bg" x="117" y="32" width="22" height="18" rx="3"/><text class="bt" x="128" y="46.5">23</text></g>
</svg>
